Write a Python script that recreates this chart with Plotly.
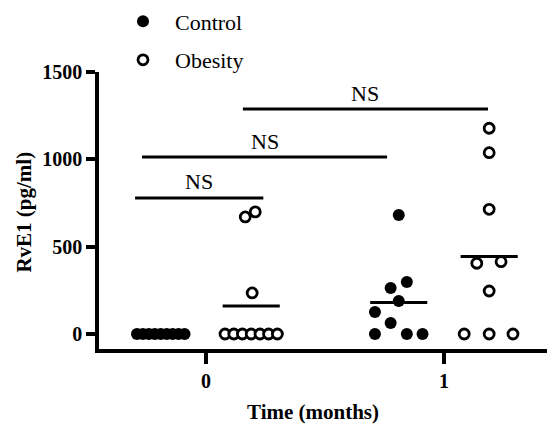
import plotly.graph_objects as go

# ---- data ----
time_categories = [0, 1]
tick_labels = ["0", "1"]

control_t0 = [0, 0, 0, 0, 0, 0, 0, 0, 0]
control_t0_jitter = [-0.1, -0.075, -0.05, -0.025, 0, 0.025, 0.05, 0.075, 0.1]

obesity_t0 = [699, 670, 235, 0, 0, 0, 0, 0, 0, 0]
obesity_t0_jitter = [0.017, -0.025, 0.004, -0.11, -0.073, -0.037, 0, 0.037, 0.073, 0.11]

control_t1 = [681, 298, 263, 189, 126, 63, 0, 0, 0]
control_t1_jitter = [0, 0.034, -0.034, 0, -0.1, -0.034, -0.1, 0.034, 0.1]

obesity_t1 = [1178, 1038, 714, 414, 405, 246, 0, 0, 0]
obesity_t1_jitter = [0, 0, 0, 0.05, -0.052, 0, -0.105, 0, 0.1]

group_offset = {"Control": -0.19, "Obesity": 0.19}
mean_halfwidth = 0.12

# significance brackets: (x_start, x_end, y, label)
brackets = [
    (-0.298, 0.241, 779, "NS"),
    (-0.269, 0.761, 1013, "NS"),
    (0.155, 1.185, 1288, "NS"),
]

y_ticks = [0, 500, 1000, 1500]
x_title = "Time (months)"
y_title = "RvE1 (pg/ml)"

FONT = "Liberation Serif"

fig = go.Figure()

series = [
    ("Control", [(0, control_t0, control_t0_jitter), (1, control_t1, control_t1_jitter)], "black"),
    ("Obesity", [(0, obesity_t0, obesity_t0_jitter), (1, obesity_t1, obesity_t1_jitter)], "white"),
]

for name, groups, fill in series:
    xs, ys = [], []
    for t, vals, jit in groups:
        for v, j in zip(vals, jit):
            xs.append(t + group_offset[name] + j)
            ys.append(v)
    # mean lines
    for t, vals, jit in groups:
        m = sum(vals) / len(vals)
        c = t + group_offset[name]
        fig.add_trace(go.Scatter(
            x=[c - mean_halfwidth, c + mean_halfwidth], y=[m, m], mode="lines",
            line=dict(color="black", width=3), showlegend=False,
            legendgroup=name, hoverinfo="skip"))
    if fill == "black":
        marker = dict(symbol="circle", size=12, color="black", line=dict(width=0))
    else:
        marker = dict(symbol="circle", size=10, color="white",
                      line=dict(color="black", width=2.8))
    fig.add_trace(go.Scatter(x=xs, y=ys, mode="markers", name=name,
                             marker=marker, legendgroup=name))

for x0, x1, y, lab in brackets:
    fig.add_shape(type="line", xref="x", yref="y", x0=x0, x1=x1, y0=y, y1=y,
                  line=dict(color="black", width=3))
    fig.add_annotation(x=(x0 + x1) / 2, y=y, yshift=16, text=lab, showarrow=False,
                       font=dict(family=FONT, size=22, color="black"),
                       xref="x", yref="y")

# axis titles
fig.add_annotation(text=x_title, x=0.478, y=-0.227, xref="paper", yref="paper",
                   showarrow=False, xanchor="center", yanchor="middle",
                   font=dict(family=FONT, size=21, color="black", weight="bold"))
fig.add_annotation(text=y_title, x=-0.168, y=0.495, xref="paper", yref="paper",
                   showarrow=False, xanchor="center", yanchor="middle", textangle=-90,
                   font=dict(family=FONT, size=21, color="black", weight="bold"))

fig.update_layout(
    width=547, height=425,
    margin=dict(l=99, r=0, t=72, b=76, autoexpand=False),
    plot_bgcolor="white", paper_bgcolor="white",
    font=dict(family=FONT, color="black"),
    legend=dict(
        x=111 / 547, y=0.999, xref="container", yref="container",
        xanchor="left", yanchor="top",
        font=dict(family=FONT, size=22, color="black"),
        itemwidth=54, tracegroupgap=7, bgcolor="rgba(0,0,0,0)",
    ),
    xaxis=dict(
        range=[-0.4496, 1.433], showgrid=False, zeroline=False,
        showline=True, linewidth=3.5, linecolor="black",
        tickmode="array", tickvals=time_categories, ticktext=tick_labels,
        ticks="outside", ticklen=11, tickwidth=3.5, tickcolor="black",
        tickfont=dict(family=FONT, size=20, weight="bold"),
    ),
    yaxis=dict(
        range=[-86, 1500], showgrid=False, zeroline=False,
        showline=True, linewidth=3.5, linecolor="black",
        tickmode="array", tickvals=y_ticks,
        ticks="outside", ticklen=9, tickwidth=3.5, tickcolor="black",
        tickfont=dict(family=FONT, size=20, weight="bold"),
    ),
)

fig.write_html("out.html", config={"displayModeBar": False},
               post_script="document.body.style.margin='0';")
